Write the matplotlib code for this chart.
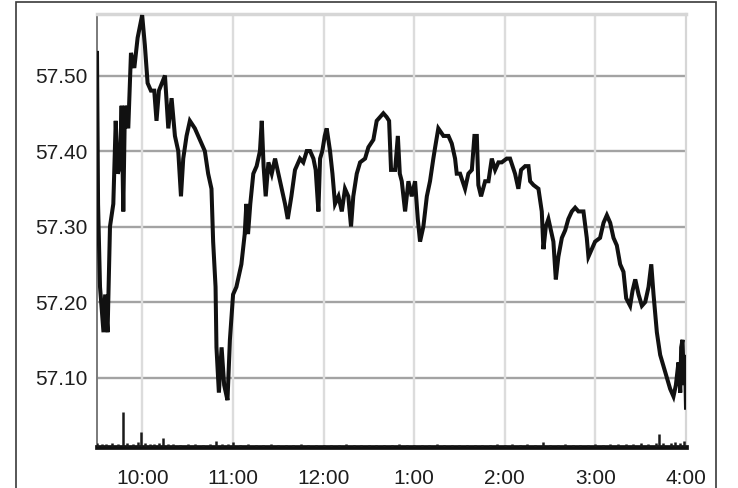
import numpy as np
import matplotlib
matplotlib.use("Agg")
import matplotlib.pyplot as plt
from matplotlib import font_manager
from matplotlib.patches import Rectangle

# Intraday price, minutes after 9:30 open
price_minutes = [
    0, 0.7, 2, 4.3, 5.4, 7, 8.6, 10.8, 12.4, 13.7, 15.2, 16.3, 17.4, 18.5, 20.7,
    22.5, 24.7, 26.9, 29.9, 31.7, 33.5, 35.7, 37.9, 39.4, 41, 45, 47.2, 49.4,
    51.6, 53.8, 55.6, 57.1, 59.3, 61.5, 64.8, 68.1, 71.4, 73.6, 75.8, 76.9,
    78.5, 79.1, 80.7, 82.5, 84.2, 86.4, 88, 90.1, 92.3, 95.6, 97.8, 98.9,
    100, 101.5, 103.5, 105.7, 107.9, 109.1, 110.3, 111.7, 113.5, 115.7, 117.9,
    120.1, 122.3, 124.5, 126.3, 128.7, 131.1, 134.4, 136.6, 138.9, 141.1,
    143.3, 144.8, 146.6, 147.7, 149.2, 150.8, 152.1, 154.3, 155.9, 157.6,
    159.9, 162.1, 164.2, 166.4, 168.2, 169.7, 172, 174.2, 177.5, 179.7, 183,
    185.2, 187.4, 189.6, 191.8, 193.4, 194.7, 197.4, 199.2,
    200.5, 201.8, 204, 206.2, 208.4, 210.6, 212.4, 213.9, 216.1, 218.4, 220.5,
    222.7, 223.9, 226, 229.4, 232.7, 234.9, 237.1, 238.2, 240.4, 243.7, 245.9,
    248.2, 249.9, 251.5, 252.5, 254.3, 257, 259.2, 261.4, 263.6, 265.8, 268,
    271.3, 273.5, 276.8, 279, 280.8, 283.5, 285.7, 286.8, 289, 292.3, 294.5,
    295.6, 297.2, 298.9,
    300, 302.2, 303.8, 305.5, 307.8, 310, 312.1, 314.4, 316.6, 318.8, 322.1,
    324.3, 325.4, 327.6, 329.8, 333.1, 335.4, 337.6, 339.8, 342, 344.2, 346.4,
    348.6, 350.4, 353, 354.6, 356.4, 358.6, 360.8, 363, 365.2, 367, 368.5,
    370.7, 372.9, 375.1, 377.3, 379.5, 381.7, 383.3, 385, 386.2, 386.8, 387.7,
    388.6, 389.3, 390,
]
prices = [
    57.53, 57.33, 57.22, 57.16, 57.21, 57.16, 57.30, 57.33, 57.44, 57.37, 57.38,
    57.46, 57.32, 57.46, 57.43, 57.53, 57.51, 57.55, 57.58, 57.54, 57.49, 57.48,
    57.48, 57.44, 57.48, 57.50, 57.43, 57.47, 57.42, 57.40, 57.34, 57.39, 57.42,
    57.44, 57.43, 57.415, 57.40, 57.37, 57.35, 57.28, 57.22, 57.14, 57.08,
    57.14, 57.09, 57.07, 57.15, 57.21, 57.22, 57.25, 57.29, 57.33,
    57.29, 57.33, 57.37, 57.38, 57.40, 57.44, 57.38, 57.34, 57.385, 57.37,
    57.39, 57.37, 57.35, 57.33, 57.31, 57.34, 57.375, 57.39, 57.385, 57.40,
    57.40, 57.39, 57.375, 57.32, 57.39, 57.40, 57.42, 57.43, 57.40, 57.37,
    57.33, 57.34, 57.32, 57.35, 57.34, 57.30, 57.34, 57.37, 57.385, 57.39,
    57.405, 57.415, 57.44, 57.445, 57.45, 57.445, 57.44, 57.375, 57.375, 57.42,
    57.37, 57.36, 57.32, 57.36, 57.34, 57.36, 57.31, 57.28, 57.30, 57.34, 57.36,
    57.39, 57.405, 57.43, 57.42, 57.42, 57.41, 57.39, 57.37, 57.37, 57.35,
    57.37, 57.375, 57.42, 57.42, 57.355, 57.34, 57.36, 57.36, 57.39, 57.375,
    57.385, 57.385, 57.39, 57.39, 57.37, 57.35, 57.375, 57.38, 57.38, 57.36,
    57.355, 57.35, 57.32, 57.27, 57.30, 57.31,
    57.30, 57.28, 57.23, 57.26, 57.285, 57.295, 57.31, 57.32, 57.325, 57.32,
    57.32, 57.285, 57.26, 57.27, 57.28, 57.285, 57.305, 57.315, 57.305, 57.285,
    57.275, 57.25, 57.24, 57.205, 57.195, 57.215, 57.23, 57.21, 57.195, 57.20,
    57.22, 57.25, 57.21, 57.16, 57.13, 57.115, 57.10, 57.085, 57.075, 57.09,
    57.12, 57.08, 57.14, 57.15, 57.09, 57.13, 57.06,
]

# Volume bars (relative units)
vol_minutes = [
    0, 3, 6, 10, 14, 17, 20, 24, 27, 29, 32, 35, 38, 41, 44, 47, 50, 55, 60,
    65, 70, 75, 79, 83, 87, 90, 95, 100, 105, 110, 115, 120, 125, 130, 135,
    140, 145, 150, 155, 160, 165, 170, 175, 180, 185, 190, 195, 200, 205, 210,
    215, 220, 225, 230, 235, 240, 245, 250, 255, 260, 265, 270, 275, 280, 285,
    290, 295, 300, 305, 310, 315, 320, 325, 330, 335, 340, 345, 350, 355, 360,
    365, 370, 372, 375, 380, 383, 386, 389,
]
vol_values = [
    4, 3, 3, 4, 3, 35, 4, 3, 5, 15, 4, 3, 3, 4, 9, 3, 3, 2, 3,
    3, 2, 3, 6, 3, 3, 5, 2, 3, 2, 2, 3, 2, 2, 2, 3,
    2, 2, 2, 2, 2, 3, 2, 2, 2, 2, 2, 2, 3, 2, 2,
    2, 2, 3, 2, 2, 2, 2, 2, 2, 2, 3, 2, 3, 2, 3,
    2, 5, 2, 2, 3, 2, 2, 2, 3, 2, 3, 3, 3, 3, 4,
    3, 4, 13, 4, 4, 5, 4, 6,
]

hour_minutes = [30, 90, 150, 210, 270, 330, 390]
hour_labels = ["10:00", "11:00", "12:00", "1:00", "2:00", "3:00", "4:00"]
price_ticks = [57.10, 57.20, 57.30, 57.40, 57.50]
y_low, y_high = 57.008, 57.5815

names = {f.name for f in font_manager.fontManager.ttflist}
family = "Liberation Sans" if "Liberation Sans" in names else "DejaVu Sans"

W, H = 738, 488
fig = plt.figure(figsize=(W / 100, H / 100), dpi=100)
fig.patch.set_facecolor("white")
ax = fig.add_axes([97 / W, 1 - 447 / H, (686 - 97) / W, (447 - 14) / H])

ax.set_xlim(0, 390)
ax.set_ylim(y_low, y_high)
ax.set_axisbelow(True)

# grid
for p in price_ticks:
    ax.axhline(p, color="#a3a3a3", lw=1.7, zorder=0)
for m in hour_minutes[:-1]:
    ax.axvline(m, color="#dcdcdc", lw=1.7, zorder=0)

ax.plot(price_minutes, prices, color="#111111", lw=2.9,
        solid_joinstyle="miter", zorder=3)

# volume on its own scale at the bottom
ax2 = ax.twinx()
ax2.set_ylim(0, 433)
ax2.vlines(vol_minutes, 0, vol_values, color="#1a1a1a", lw=1.8)
ax2.axis("off")

ax.set_xticks(hour_minutes)
ax.set_xticklabels(hour_labels)
ax.set_yticks(price_ticks)
ax.set_yticklabels([f"{p:.2f}" for p in price_ticks])
ax.tick_params(axis="both", length=0, labelsize=15, labelcolor="#1e1e1e")
ax.tick_params(axis="x", pad=16)
ax.tick_params(axis="y", pad=7)
for lab in ax.get_xticklabels() + ax.get_yticklabels():
    lab.set_family(family)

ax.spines["left"].set_color("#7a7a7a")
ax.spines["left"].set_linewidth(1.4)
ax.spines["top"].set_color("#d6d6d6")
ax.spines["top"].set_linewidth(2.5)
ax.spines["right"].set_color("#d6d6d6")
ax.spines["right"].set_linewidth(1.6)
ax.spines["bottom"].set_color("#111111")
ax.spines["bottom"].set_linewidth(3.4)
ax.axvline(390, ymin=0, ymax=(57.30 - y_low) / (y_high - y_low),
           color="#8c8c8c", lw=1.4, clip_on=False, zorder=2)

# frame around the whole figure
fig.add_artist(Rectangle((16 / W, -0.05), (716 - 16) / W, 1.05 - 1.5 / H,
                         transform=fig.transFigure, fill=False,
                         ec="#3a3a3a", lw=1.2))

fig.savefig("out.png", dpi=100)
